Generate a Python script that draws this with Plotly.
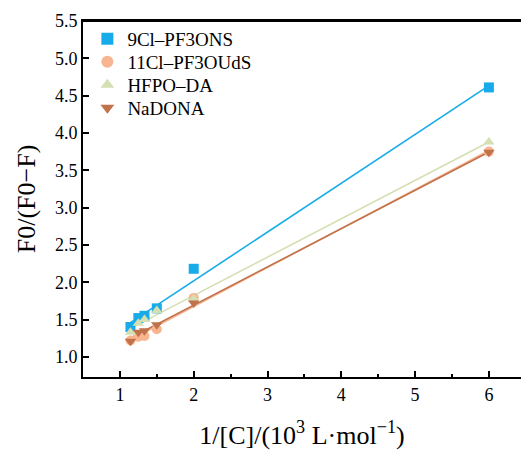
import numpy as np
import plotly.graph_objects as go

x_vals = [1.143, 1.25, 1.333, 1.5, 2.0, 6.0]
names = ["9Cl\u2013PF3ONS", "11Cl\u2013PF3OUdS", "HFPO\u2013DA", "NaDONA"]
y_9cl = [1.40, 1.52, 1.55, 1.65, 2.18, 4.61]
y_11cl = [1.22, 1.27, 1.28, 1.37, 1.79, 3.75]
y_hfpo = [1.33, 1.45, 1.50, 1.62, 1.78, 3.88]
y_nadona = [1.21, 1.33, 1.35, 1.43, 1.72, 3.74]

colors = ["#17ABEA", "#F8B590", "#D4DFB2", "#C0724A"]
symbols = ["square", "circle", "triangle-up", "triangle-down"]
series = [y_9cl, y_11cl, y_hfpo, y_nadona]
legend_ids = ["legend", "legend2", "legend3", "legend4"]

fig = go.Figure()
for name, ys, c, s in zip(names, series, colors, symbols):
    xs = np.array(x_vals)
    k, b = np.polyfit(xs, np.array(ys), 1)
    xl = np.array([xs.min(), xs.max()])
    fig.add_trace(go.Scatter(x=xl, y=k * xl + b, mode="lines",
                             line=dict(color=c, width=1.6),
                             showlegend=False, hoverinfo="skip"))
for name, ys, c, s, lg in zip(names, series, colors, symbols, legend_ids):
    fig.add_trace(go.Scatter(x=x_vals, y=ys, mode="markers", name=name,
                             legend=lg,
                             marker=dict(color=c, symbol=s, size=10,
                                         line=dict(width=0))))

font = "Liberation Serif, Times New Roman, serif"
plot_h = 356
legend_rows = [39, 62, 85, 108]
legend_kw = {}
for lg, py in zip(legend_ids, legend_rows):
    legend_kw[lg] = dict(x=0.01, y=(377 - py) / plot_h, xanchor="left",
                         yanchor="middle", bgcolor="rgba(0,0,0,0)",
                         font=dict(size=19, family=font), itemsizing="constant")

fig.update_layout(
    width=521, height=457,
    margin=dict(l=83, r=0, t=21, b=80),
    plot_bgcolor="white", paper_bgcolor="white",
    font=dict(family=font, color="black"),
    **legend_kw,
    xaxis=dict(range=[0.5, 0.5 + 438 / 73.8], tickvals=[1, 2, 3, 4, 5, 6],
               automargin=False,
               ticks="inside", ticklen=6, tickwidth=1.5, tickcolor="black",
               minor=dict(tickvals=[1.5, 2.5, 3.5, 4.5, 5.5], ticks="inside",
                          ticklen=3, tickwidth=1.5, tickcolor="black"),
               showline=True, linecolor="black", linewidth=1.8, mirror=True,
               showgrid=False, zeroline=False,
               tickfont=dict(size=18, family=font),
               title=dict(text="1/[C]/(10<sup>3</sup> L\u00b7mol<sup>\u22121</sup>)",
                          font=dict(size=26, family=font), standoff=22)),
    yaxis=dict(range=[0.73, 5.5], tickvals=[1.0, 1.5, 2.0, 2.5, 3.0, 3.5, 4.0, 4.5, 5.0, 5.5],
               ticktext=["1.0", "1.5", "2.0", "2.5", "3.0", "3.5", "4.0", "4.5", "5.0", "5.5"],
               automargin=False,
               ticks="inside", ticklen=6, tickwidth=1.5, tickcolor="black",
               showline=True, linecolor="black", linewidth=1.8,
               showgrid=False, zeroline=False,
               tickfont=dict(size=18, family=font),
               title=dict(text="F0/(F0\u2212F)", font=dict(size=26, family=font),
                          standoff=12)),
    shapes=[dict(type="line", xref="paper", yref="paper", x0=0, x1=1, y0=1, y1=1,
                 line=dict(color="black", width=1.8), layer="above")],
)
fig.write_html("out.html", config={"displayModeBar": False},
               post_script="document.body.style.margin='0';document.body.style.overflow='hidden';")
